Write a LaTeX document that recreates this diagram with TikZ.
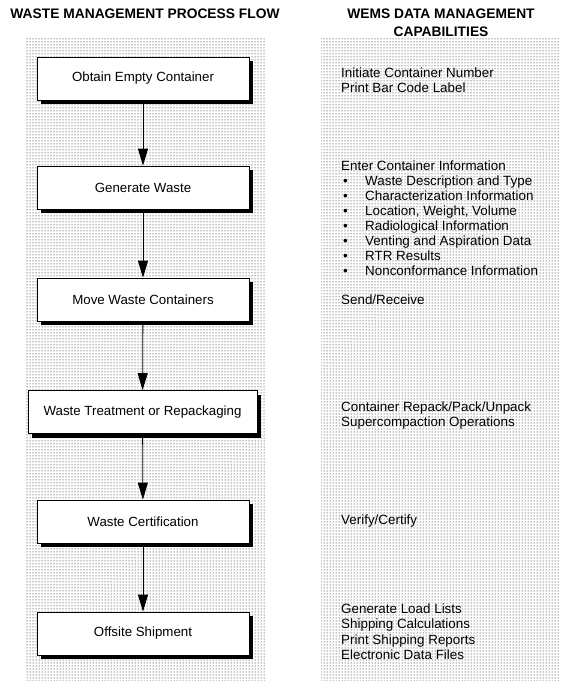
\documentclass[tikz,border=0pt]{standalone}
\usepackage{fontspec}
\setmainfont{Liberation Sans}
\usetikzlibrary{patterns,arrows.meta,shadows}
\tikzset{
  panel/.style={pattern=dots, pattern color=black},
  procbox/.style={draw=black, line width=0.8pt, fill=white, inner sep=0pt,
    minimum height=43pt, font=\fontsize{13.3}{15}\selectfont,
    drop shadow={shadow xshift=4pt, shadow yshift=-4pt, fill=black, opacity=1}},
  flowarrow/.style={draw=black, line width=0.8pt, -{Triangle[width=10pt,length=17pt]}},
  titletext/.style={font=\fontsize{13.8}{16}\selectfont\bfseries, inner sep=0pt},
  captext/.style={font=\fontsize{13.4}{15}\selectfont, inner sep=0pt, anchor=base west}
}
\newcommand{\bul}{\makebox[24pt][l]{\hspace{2pt}\textbullet}}
\begin{document}
\begin{tikzpicture}[x=1pt,y=-1pt]
\useasboundingbox (0,0) rectangle (571,693);
% panels
\fill[panel] (25,39) rectangle (266,680);
\fill[panel] (321,39) rectangle (560,680);
% titles
\node[titletext] (tl) at (145,14) {WASTE MANAGEMENT PROCESS FLOW};
\node[titletext] (tr1) at (441,14) {WEMS DATA MANAGEMENT};
\node[titletext] (tr2) at (441,32) {CAPABILITIES};
% process boxes
\node[procbox, minimum width=212pt] (b1) at (143,78.5) {Obtain Empty Container};
\node[procbox, minimum width=212pt] (b2) at (143,187.5) {Generate Waste};
\node[procbox, minimum width=212pt] (b3) at (143,299.5) {Move Waste Containers};
\node[procbox, minimum width=229pt] (b4) at (142.5,412) {Waste Treatment or Repackaging};
\node[procbox, minimum width=212pt] (b5) at (143,521.5) {Waste Certification};
\node[procbox, minimum width=212pt] (b6) at (143,633.5) {Offsite Shipment};
% arrows
\draw[flowarrow] (b1) -- (b2);
\draw[flowarrow] (b2) -- (b3);
\draw[flowarrow] (b3) -- (b4);
\draw[flowarrow] (b4) -- (b5);
\draw[flowarrow] (b5) -- (b6);
% capabilities
\foreach \yy/\tx [count=\i] in {
  73/{Initiate Container Number},
  88/{Print Bar Code Label},
  166/{Enter Container Information},
  181/{\bul Waste Description and Type},
  196/{\bul Characterization Information},
  211/{\bul Location, Weight, Volume},
  226/{\bul Radiological Information},
  241/{\bul Venting and Aspiration Data},
  256/{\bul RTR Results},
  271/{\bul Nonconformance Information},
  300/{Send/Receive},
  407/{Container Repack/Pack/Unpack},
  422/{Supercompaction Operations},
  520/{Verify/Certify},
  609/{Generate Load Lists},
  624/{Shipping Calculations},
  640/{Print Shipping Reports},
  655/{Electronic Data Files}}
  \node[captext] (c\i) at (341,\yy+4.5) {\tx};
\end{tikzpicture}
\end{document}
